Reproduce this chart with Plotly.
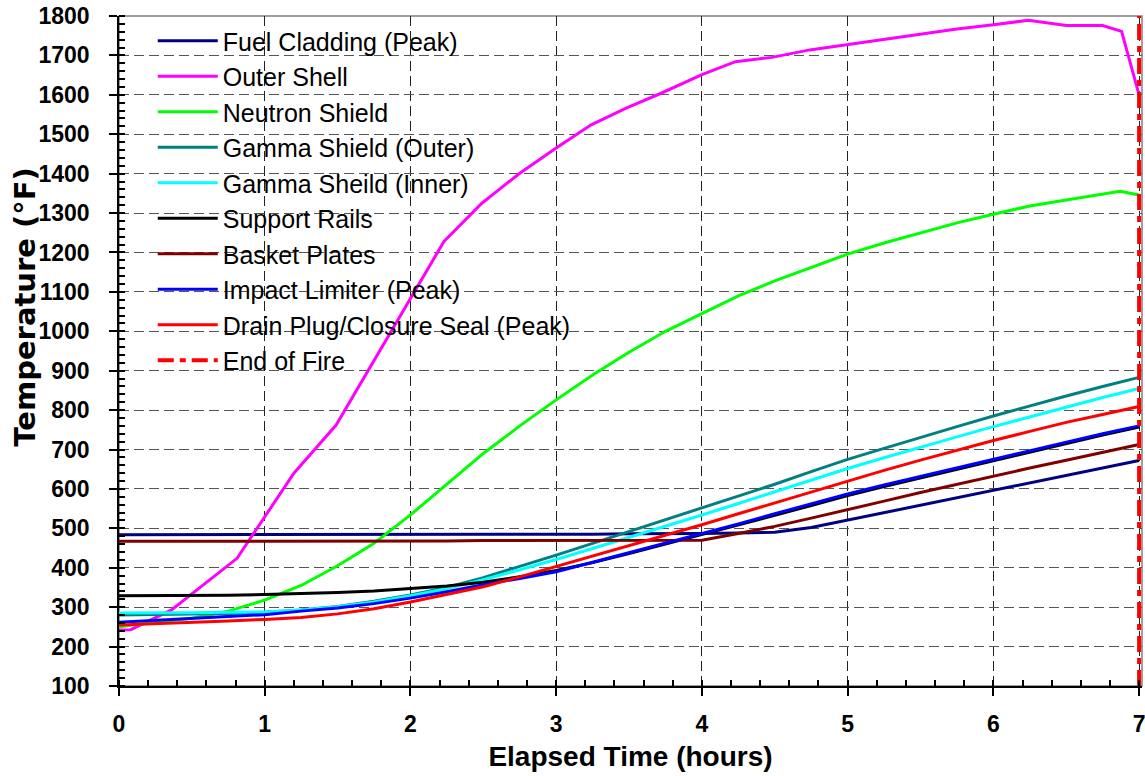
import plotly.graph_objects as go

# time grid (hours) shared by most components
hours = [0, 0.25, 0.5, 0.75, 1.0, 1.25, 1.5, 1.75, 2.0, 2.25, 2.5, 2.75, 3.0, 3.25, 3.5,
         3.75, 4.0, 4.25, 4.5, 4.75, 5.0, 5.25, 5.5, 5.75, 6.0, 6.25, 6.5, 6.75, 7.0]

fuel_cladding = [484, 484, 484, 484, 484, 484, 484, 484, 484, 484, 485, 485, 485, 485, 486,
                 486, 487, 488, 490, 502, 521, 540, 559, 578, 597, 616, 635, 653, 672]

shell_hours = [0, 0.08, 0.36, 0.81, 1.2, 1.49, 2.23, 2.49, 2.75, 3.0, 3.24, 3.48, 3.72, 4.0,
               4.23, 4.48, 4.74, 5.0, 5.25, 5.5, 5.75, 6.0, 6.24, 6.5, 6.75, 6.88, 7.0]
outer_shell = [242, 243, 293, 424, 640, 762, 1228, 1325, 1401, 1465, 1524, 1566, 1604, 1651,
               1684, 1695, 1714, 1728, 1742, 1755, 1767, 1778, 1789, 1776, 1776, 1761, 1600]

neutron_hours = [0, 0.25, 0.5, 0.75, 1.0, 1.25, 1.5, 1.75, 2.0, 2.25, 2.5, 2.75, 3.0, 3.25, 3.5,
                 3.75, 4.0, 4.25, 4.5, 4.75, 5.0, 5.25, 5.5, 5.75, 6.0, 6.25, 6.5, 6.75, 6.87, 7.0]
neutron_shield = [250, 262, 272, 290, 318, 355, 405, 462, 534, 612, 690, 760, 826, 889, 947,
                  1000, 1045, 1090, 1128, 1163, 1196, 1224, 1250, 1275, 1297, 1318, 1333, 1349, 1355, 1346]

gamma_outer = [280, 281, 282, 284, 287, 293, 302, 315, 331, 350, 375, 403, 432, 462, 492,
               522, 551, 582, 612, 644, 675, 703, 731, 758, 785, 811, 836, 860, 883]
gamma_inner = [285, 285, 286, 287, 288, 293, 301, 313, 329, 347, 370, 395, 421, 449, 477,
               506, 534, 563, 593, 622, 652, 679, 706, 732, 758, 783, 808, 832, 855]
support_rails = [329, 329, 330, 330, 332, 334, 337, 341, 347, 354, 363, 377, 393, 413, 436,
                 460, 484, 508, 533, 558, 583, 606, 628, 650, 672, 694, 716, 737, 757]
basket_plates = [467, 467, 467, 467, 467, 468, 468, 468, 468, 468, 469, 469, 469, 469, 469,
                 470, 470, 487, 505, 526, 547, 569, 591, 612, 633, 653, 673, 693, 713]
impact_limiter = [262, 267, 272, 277, 281, 290, 298, 309, 323, 339, 357, 373, 390, 414, 438,
                  463, 487, 511, 537, 562, 587, 610, 632, 653, 675, 697, 719, 740, 760]
drain_plug = [255, 258, 261, 265, 269, 274, 283, 296, 313, 332, 352, 377, 403, 430, 456,
              482, 509, 537, 565, 592, 620, 647, 673, 698, 723, 746, 769, 789, 809]

end_fire_x = [7, 7]
end_fire_y = [100, 1800]

series = [
    ('Fuel Cladding (Peak)', hours, fuel_cladding, '#000080'),
    ('Outer Shell', shell_hours, outer_shell, '#FF00FF'),
    ('Neutron Shield', neutron_hours, neutron_shield, '#00FF00'),
    ('Gamma Shield (Outer)', hours, gamma_outer, '#008080'),
    ('Gamma Sheild (Inner)', hours, gamma_inner, '#00FFFF'),
    ('Support Rails', hours, support_rails, '#000000'),
    ('Basket Plates', hours, basket_plates, '#800000'),
    ('Impact Limiter (Peak)', hours, impact_limiter, '#0000FF'),
    ('Drain Plug/Closure Seal (Peak)', hours, drain_plug, '#FF0000'),
]

fig = go.Figure()

for i, (name, xs, ys, color) in enumerate(series):
    fig.add_trace(go.Scatter(x=xs, y=ys, mode='lines', name=name, legendgroup=f'g{i}',
                             line=dict(color=color, width=3)))

fig.add_trace(go.Scatter(x=end_fire_x, y=end_fire_y, mode='lines', name='End of Fire',
                         legendgroup='g9',
                         line=dict(color='#FF0000', width=4, dash='16px,6px,6px,6px')))

# grey frame around the plot area (top/right), black axis lines drawn on left/bottom
fig.add_shape(type='rect', xref='paper', yref='paper', x0=0, y0=0, x1=1, y1=1,
              line=dict(color='#808080', width=1.5), layer='below')

# y title as annotation so it can sit a little above centre like the original
fig.add_annotation(text='Temperature (°F)', xref='paper', yref='paper',
                   x=-0.092, y=0.566, xanchor='center', yanchor='middle',
                   textangle=-90, showarrow=False,
                   font=dict(family='DejaVu Sans', size=29, color='black', weight='bold'))

tick_font = dict(family='Liberation Sans, Arial', size=23, color='black', weight='bold')

fig.update_layout(
    width=1145, height=776,
    margin=dict(l=119, r=3, t=16, b=90),
    paper_bgcolor='white', plot_bgcolor='white',
    font=dict(family='Liberation Sans, Arial', color='black'),
    showlegend=True,
    legend=dict(x=0.033, y=0.997, xanchor='left', yanchor='top',
                bgcolor='rgba(0,0,0,0)', borderwidth=0,
                font=dict(family='Liberation Sans, Arial', size=25, color='black'),
                tracegroupgap=0, itemwidth=60),
)

fig.update_xaxes(
    range=[0, 7.02], tickvals=[0, 1, 2, 3, 4, 5, 6, 7],
    automargin=False, ticklabeloverflow='allow',
    showline=True, linecolor='black', linewidth=1.5,
    ticks='outside', ticklen=8, tickcolor='black', tickwidth=1.5,
    ticklabelstandoff=9,
    tickfont=tick_font,
    showgrid=True, gridcolor='#222222', gridwidth=1, griddash='10px,5px',
    minor=dict(dtick=0.2, ticks='inside', ticklen=6, tickcolor='black', showgrid=False),
    zeroline=False,
    title=dict(text='Elapsed Time (hours)', standoff=10,
               font=dict(family='Liberation Sans, Arial', size=28, color='black', weight='bold')),
)

fig.update_yaxes(
    range=[100, 1800], dtick=100,
    automargin=False,
    showline=True, linecolor='black', linewidth=1.5,
    ticks='outside', ticklen=8, tickcolor='black', tickwidth=1.5,
    ticklabelstandoff=15,
    tickfont=tick_font,
    showgrid=True, gridcolor='#555555', gridwidth=1, griddash='10px,5px',
    minor=dict(dtick=20, ticks='inside', ticklen=6, tickcolor='black', showgrid=False),
    zeroline=False,
)

fig.write_html('out.html', config={'displayModeBar': False},
               post_script="document.body.style.margin='0';document.body.style.overflow='hidden';")
